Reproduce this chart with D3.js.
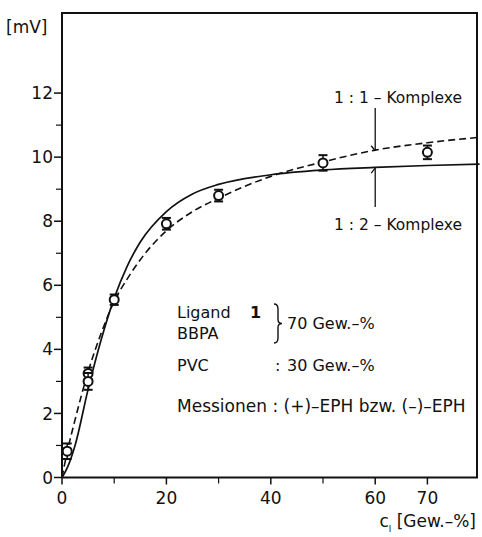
<!DOCTYPE html>
<html>
<head>
<meta charset="utf-8">
<script src="https://cdn.jsdelivr.net/npm/d3@7"></script>
<style>
  body { margin: 0; background: #fff; }
  svg { display: block; }
  text { font-family: "DejaVu Sans", sans-serif; fill: #111; }
</style>
</head>
<body>
<div id="chart"></div>
<script>
// measured points (c_l in Gew.-%, mV), with error half-widths
const pointX = [1, 5, 5, 10, 20, 30, 50, 70];
const pointY = [0.82, 3.25, 3.0, 5.55, 7.92, 8.8, 9.82, 10.15];
const pointErr = [0.18, 0.12, 0.2, 0.1, 0.12, 0.12, 0.18, 0.15];

// 1:2 Komplexe (solid)
const solidX = [0, 1, 2.5, 5, 7.5, 10, 12.5, 15, 20, 25, 30, 40, 50, 60, 70, 80];
const solidY = [0, 0.3, 1.0, 2.75, 4.3, 5.6, 6.6, 7.35, 8.3, 8.85, 9.15, 9.45, 9.6, 9.68, 9.74, 9.78];

// 1:1 Komplexe (dashed)
const dashX = [0, 1, 2.5, 5, 7.5, 10, 12.5, 15, 20, 25, 30, 40, 50, 60, 70, 80];
const dashY = [0, 0.8, 1.8, 3.3, 4.5, 5.5, 6.2, 6.8, 7.7, 8.3, 8.72, 9.4, 9.85, 10.22, 10.45, 10.62];

const xTicks = [0, 20, 40, 60, 70];
const xMinor = [10, 30, 50];
const yTicks = [0, 2, 4, 6, 8, 10, 12];
const yMinor = [1, 3, 5, 7, 9, 11];

const W = 482, H = 537;
const margin = {top: 13, right: 5, bottom: 59, left: 64};

const svg = d3.select('#chart').append('svg')
    .attr('width', W).attr('height', H);

const x = d3.scaleLinear()
    .domain([0, 79.5])
    .range([margin.left - 2, W - margin.right]);
const y = d3.scaleLinear()
    .domain([0, 14.5])
    .range([H - margin.bottom - 0.5, margin.top]);

const x0 = x(0), y0 = y(0);

// frame: left + bottom axes, top + right border
svg.append('path')
    .attr('fill', 'none').attr('stroke', '#111').attr('stroke-width', 2)
    .attr('d', `M${x0},${y0}V${margin.top}H${W - margin.right}V${y0}H${x0}`);

// y axis ticks
const yAxis = svg.append('g').attr('transform', `translate(${x0},0)`);
yAxis.selectAll('line.major').data(yTicks).enter().append('line')
    .attr('x1', -8).attr('x2', 0)
    .attr('y1', d => y(d)).attr('y2', d => y(d))
    .attr('stroke', '#111').attr('stroke-width', 1.5);
yAxis.selectAll('line.minor').data(yMinor).enter().append('line')
    .attr('x1', -6).attr('x2', 0)
    .attr('y1', d => y(d)).attr('y2', d => y(d))
    .attr('stroke', '#111').attr('stroke-width', 1.2);
yAxis.selectAll('text').data(yTicks).enter().append('text')
    .attr('x', -9).attr('y', d => y(d))
    .attr('dy', '0.36em')
    .attr('text-anchor', 'end')
    .attr('font-size', 17)
    .text(d => d);

// x axis ticks
const xAxis = svg.append('g').attr('transform', `translate(0,${y0})`);
xAxis.selectAll('line.major').data(xTicks).enter().append('line')
    .attr('x1', d => x(d)).attr('x2', d => x(d))
    .attr('y1', 0).attr('y2', 7)
    .attr('stroke', '#111').attr('stroke-width', 1.5);
xAxis.selectAll('line.minor').data(xMinor).enter().append('line')
    .attr('x1', d => x(d)).attr('x2', d => x(d))
    .attr('y1', 0).attr('y2', 6)
    .attr('stroke', '#111').attr('stroke-width', 1.2);
xAxis.selectAll('text').data(xTicks).enter().append('text')
    .attr('x', d => x(d)).attr('y', 26)
    .attr('text-anchor', 'middle')
    .attr('font-size', 17)
    .text(d => d);

// axis titles
svg.append('text').attr('x', 6).attr('y', 33).attr('font-size', 17).text('[mV]');
const xt = svg.append('text').attr('x', 476).attr('y', 527)
    .attr('text-anchor', 'end').attr('font-size', 17);
xt.append('tspan').text('c');
xt.append('tspan').attr('font-size', 9).attr('dy', 5).text('l');
xt.append('tspan').attr('dy', -5).text(' [Gew.–%]');

// curves
const line = d3.line()
    .curve(d3.curveMonotoneX)
    .x(d => x(d[0]))
    .y(d => y(d[1]));

svg.append('path')
    .datum(solidX.map((d, i) => [d, solidY[i]]))
    .attr('fill', 'none').attr('stroke', '#111').attr('stroke-width', 1.7)
    .attr('d', line);

svg.append('path')
    .datum(dashX.map((d, i) => [d, dashY[i]]))
    .attr('fill', 'none').attr('stroke', '#111').attr('stroke-width', 1.6)
    .attr('stroke-dasharray', '7,4')
    .attr('d', line);

// data points with error bars
const pts = svg.append('g');
pointX.forEach((px, i) => {
    const cx = x(px), cy = y(pointY[i]);
    const top = y(pointY[i] + pointErr[i]), bot = y(pointY[i] - pointErr[i]);
    const g = pts.append('g');
    g.append('line').attr('x1', cx).attr('x2', cx).attr('y1', top - 2).attr('y2', bot + 2)
        .attr('stroke', '#111').attr('stroke-width', 1.5);
    [top - 2, bot + 2].forEach(v => g.append('line')
        .attr('x1', cx - 4.5).attr('x2', cx + 4.5).attr('y1', v).attr('y2', v)
        .attr('stroke', '#111').attr('stroke-width', 2));
    g.append('circle').attr('cx', cx).attr('cy', cy).attr('r', 4.5)
        .attr('fill', '#fff').attr('stroke', '#111').attr('stroke-width', 2);
});

// annotations with arrows
function arrow(xv, yFrom, yTo) {
    const xa = x(xv), ya = y(yTo);
    const dir = yFrom > ya ? 1 : -1;
    svg.append('line').attr('x1', xa).attr('x2', xa).attr('y1', yFrom).attr('y2', ya)
        .attr('stroke', '#111').attr('stroke-width', 1.3);
    svg.append('path').attr('fill', 'none').attr('stroke', '#111').attr('stroke-width', 1.3)
        .attr('d', `M${xa},${ya}L${xa - 4},${ya + dir * 5}`);
}
arrow(60, 108, 10.2);
arrow(60, 207, 9.66);

svg.append('text').attr('x', 334).attr('y', 103).attr('font-size', 15.5).text('1 : 1 – Komplexe');
svg.append('text').attr('x', 334).attr('y', 230).attr('font-size', 15.5).text('1 : 2 – Komplexe');

// composition legend
const leg = svg.append('g').attr('font-size', 16);
const l1 = leg.append('text').attr('x', 177).attr('y', 318);
l1.append('tspan').text('Ligand');
l1.append('tspan').attr('x', 250).attr('font-weight', 'bold').text('1');
leg.append('text').attr('x', 177).attr('y', 339).text('BBPA');
// curly brace
const bx = 274, bt = 304, bb = 343, bm = (bt + bb) / 2;
leg.append('path').attr('fill', 'none').attr('stroke', '#111').attr('stroke-width', 1.4)
    .attr('d', `M${bx},${bt} Q${bx + 4},${bt} ${bx + 4},${bt + 5} V${bm - 4} Q${bx + 4},${bm} ${bx + 8},${bm}` +
        ` Q${bx + 4},${bm} ${bx + 4},${bm + 4} V${bb - 5} Q${bx + 4},${bb} ${bx},${bb}`);
leg.append('text').attr('x', 287).attr('y', 329).text('70 Gew.–%');
leg.append('text').attr('x', 177).attr('y', 371).text('PVC');
leg.append('text').attr('x', 275).attr('y', 371).text(':');
leg.append('text').attr('x', 287).attr('y', 371).text('30 Gew.–%');
leg.append('text').attr('x', 177).attr('y', 412).attr('font-size', 17)
    .text('Messionen : (+)–EPH bzw. (–)–EPH');
</script>
</body>
</html>
